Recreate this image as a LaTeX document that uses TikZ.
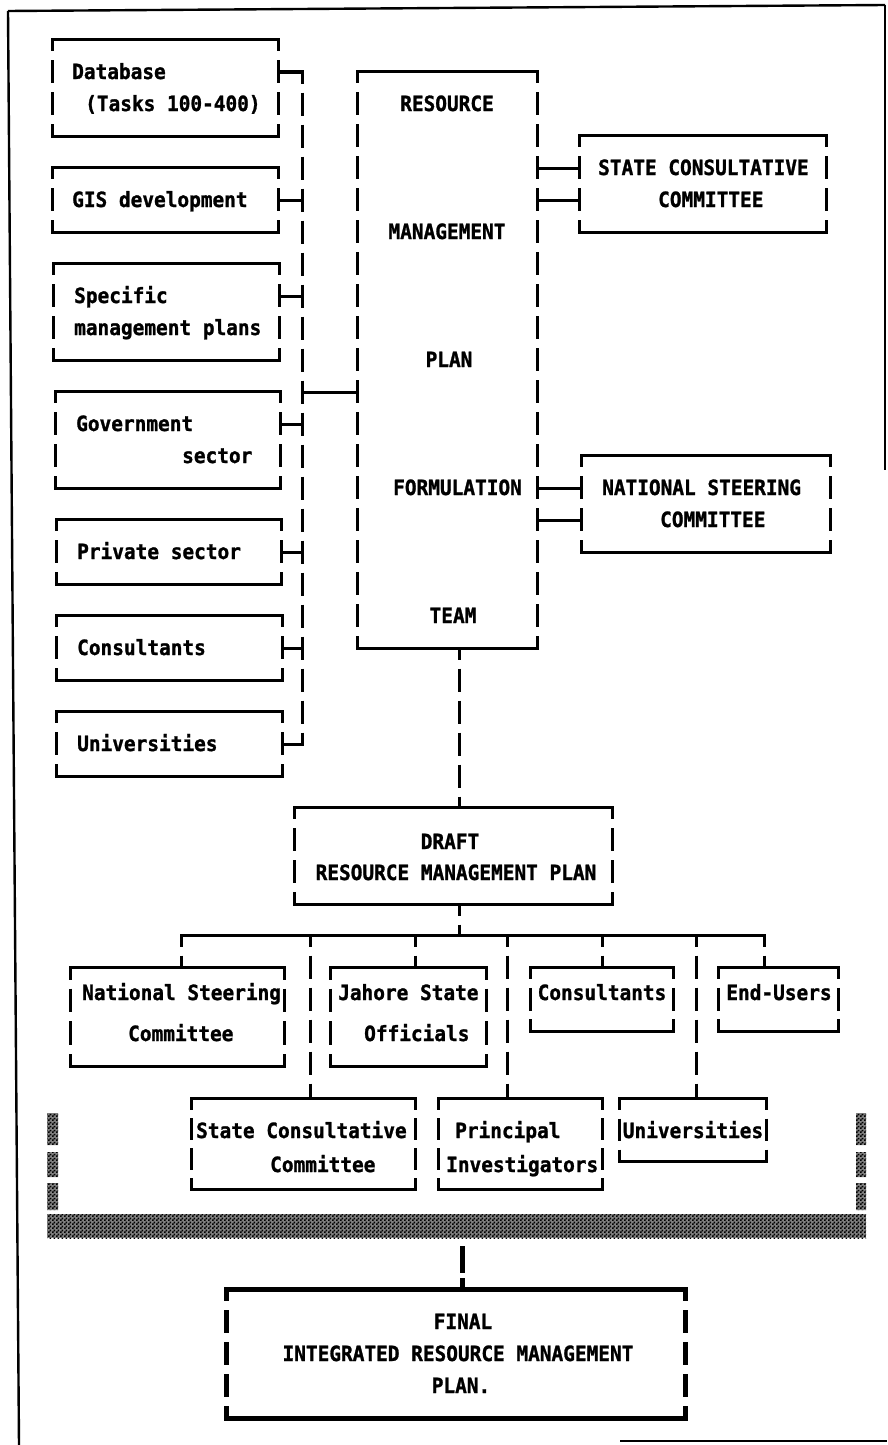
\documentclass[tikz,border=0pt]{standalone}
\usepackage{fontspec}
\setmainfont{DejaVu Sans Mono}[FakeStretch=0.925, BoldFeatures={FakeBold=1.2}]
\usetikzlibrary{fit,patterns}

% checkerboard dither used for the shaded bar
\pgfdeclarepatternformonly{dither}{\pgfpointorigin}{\pgfpoint{4pt}{4pt}}{\pgfpoint{4pt}{4pt}}{%
  \pgfpathrectangle{\pgfpointorigin}{\pgfpoint{2pt}{2pt}}%
  \pgfpathrectangle{\pgfpoint{2pt}{2pt}}{\pgfpoint{2pt}{2pt}}%
  \pgfusepath{fill}}

\tikzset{
  lbl/.style={inner sep=0pt, font=\fontsize{21}{24}\selectfont\bfseries},
  link/.style={line width=3pt, line cap=rect},
  vlink/.style={line width=3pt, dash pattern=on 23pt off 9pt, dash phase=11.5pt},
  shade/.style={fill=black!50, postaction={pattern=dither}},
}

% box drawn in character cells: solid top and bottom, sides broken at each text row
% #1 line width, #2 name, #3 left, #4 top, #5 right, #6 bottom, #7 rows
\newcommand\cellbox[7][3.2pt]{%
  \node[fit={(#3,#4) (#5,#6)}, inner sep=0pt] (#2) {};
  \pgfmathsetmacro\rowpitch{(#6-#4)/#7}%
  \pgfmathsetmacro\dashon{0.72*\rowpitch}%
  \pgfmathsetmacro\dashoff{\rowpitch-\dashon}%
  \pgfmathsetmacro\dashph{\dashon/2}%
  \draw[line width=#1, line cap=rect] (#2.north west) -- (#2.north east);
  \draw[line width=#1, line cap=rect] (#2.south west) -- (#2.south east);
  \draw[line width=#1, dash pattern=on \dashon pt off \dashoff pt, dash phase=\dashph pt]
    (#2.north west) -- (#2.south west);
  \draw[line width=#1, dash pattern=on \dashon pt off \dashoff pt, dash phase=\dashph pt]
    (#2.north east) -- (#2.south east);
}

\begin{document}
\begin{tikzpicture}[x=1pt, y=-1pt]
\useasboundingbox (0,0) rectangle (887,1445);

% page frame
\draw[line width=2.4pt] (8,11) -- (885,5);
\draw[line width=2.4pt] (8,11) -- (19,1445);
\draw[line width=2.4pt] (885,5) -- (885,470);
\draw[line width=2.4pt] (620,1441) -- (887,1441);

% ---- contributing inputs (left column)
\cellbox{db}{53}{40}{278}{136}{3}
\node[lbl, anchor=base west] (dbA) at (72,79) {Database};
\node[lbl, anchor=base west] (dbB) at (85,111) {(Tasks 100-400)};

\cellbox{gis}{53}{168}{278}{232}{2}
\node[lbl, anchor=base west] (gisA) at (72,207) {GIS development};

\cellbox{spec}{54}{264}{279}{360}{3}
\node[lbl, anchor=base west] (specA) at (74,303) {Specific};
\node[lbl, anchor=base west] (specB) at (74,335) {management plans};

\cellbox{gov}{56}{392}{280}{488}{3}
\node[lbl, anchor=base west] (govA) at (76,431) {Government};
\node[lbl, anchor=base west] (govB) at (182,463) {sector};

\cellbox{priv}{57}{520}{281}{584}{2}
\node[lbl, anchor=base west] (privA) at (77,559) {Private sector};

\cellbox{cons}{57}{616}{282}{680}{2}
\node[lbl, anchor=base west] (consA) at (77,655) {Consultants};

\cellbox{univ}{57}{712}{282}{776}{2}
\node[lbl, anchor=base west] (univA) at (77,751) {Universities};

% collecting bus
\coordinate (bus-db)   at (302,72);
\coordinate (bus-gis)  at (302,200);
\coordinate (bus-spec) at (302,296);
\coordinate (bus-team) at (302,392);
\coordinate (bus-gov)  at (302,424);
\coordinate (bus-priv) at (302,552);
\coordinate (bus-cons) at (302,648);
\coordinate (bus-univ) at (302,744);
\draw[vlink] (bus-db) -- (bus-univ);
\draw[link] (db.east |- bus-db) -- (bus-db);
\draw[link] (gis.east |- bus-gis) -- (bus-gis);
\draw[link] (spec.east |- bus-spec) -- (bus-spec);
\draw[link] (gov.east |- bus-gov) -- (bus-gov);
\draw[link] (priv.east |- bus-priv) -- (bus-priv);
\draw[link] (cons.east |- bus-cons) -- (bus-cons);
\draw[link] (univ.east |- bus-univ) -- (bus-univ);

% ---- formulation team
\cellbox{team}{358}{72}{537}{648}{18}
\node[lbl, anchor=base] (teamA) at (447,111) {RESOURCE};
\node[lbl, anchor=base] (teamB) at (447,239) {MANAGEMENT};
\node[lbl, anchor=base] (teamC) at (449,367) {PLAN};
\node[lbl, anchor=base west] (teamD) at (393,495) {FORMULATION};
\node[lbl, anchor=base] (teamE) at (453,623) {TEAM};
\draw[link] (bus-team) -- (team.west |- bus-team);

% ---- committees
\cellbox{scc}{580}{136}{826}{232}{3}
\node[lbl, anchor=base west] (sccA) at (598,175) {STATE CONSULTATIVE};
\node[lbl, anchor=base west] (sccB) at (658,207) {COMMITTEE};
\draw[link] (team.east |- 0,168) -- (scc.west |- 0,168);
\draw[link] (team.east |- 0,200) -- (scc.west |- 0,200);

\cellbox{nsc}{582}{456}{830}{552}{3}
\node[lbl, anchor=base west] (nscA) at (602,495) {NATIONAL STEERING};
\node[lbl, anchor=base west] (nscB) at (660,527) {COMMITTEE};
\draw[link] (team.east |- 0,488) -- (nsc.west |- 0,488);
\draw[link] (team.east |- 0,520) -- (nsc.west |- 0,520);

% ---- draft plan
\cellbox{draft}{295}{808}{612}{904}{3}
\node[lbl, anchor=base] (draftA) at (450,849) {DRAFT};
\node[lbl, anchor=base] (draftB) at (456,880) {RESOURCE MANAGEMENT PLAN};
\coordinate (spine) at (459,0);
\draw[vlink] (team.south -| spine) -- (draft.north -| spine);

% review tree
\coordinate (t1) at (181,935);
\coordinate (t2) at (310,935);
\coordinate (t3) at (415,935);
\coordinate (t4) at (507,935);
\coordinate (t5) at (602,935);
\coordinate (t6) at (696,935);
\coordinate (t7) at (764,935);
\draw[vlink] (draft.south -| spine) -- (spine |- t1);
\draw[link] (t1) -- (t7);

\cellbox{nsc2}{71}{968}{284}{1066}{3}
\node[lbl, anchor=base west] (nsc2A) at (82,1000) {National Steering};
\node[lbl, anchor=base west] (nsc2B) at (128,1041) {Committee};

\cellbox{jah}{331}{968}{486}{1066}{3}
\node[lbl, anchor=base west] (jahA) at (338,1000) {Jahore State};
\node[lbl, anchor=base west] (jahB) at (364,1041) {Officials};

\cellbox{cons2}{531}{968}{673}{1031}{2}
\node[lbl, anchor=base] (cons2A) at (602,1000) {Consultants};

\cellbox{endu}{719}{968}{838}{1031}{2}
\node[lbl, anchor=base] (enduA) at (779,1000) {End-Users};

\cellbox{scc2}{192}{1099}{415}{1189}{3}
\node[lbl, anchor=base west] (scc2A) at (196,1138) {State Consultative};
\node[lbl, anchor=base west] (scc2B) at (270,1172) {Committee};

\cellbox{pi}{439}{1099}{602}{1189}{3}
\node[lbl, anchor=base west] (piA) at (455,1138) {Principal};
\node[lbl, anchor=base west] (piB) at (446,1172) {Investigators};

\cellbox{univ2}{620}{1099}{766}{1161}{2}
\node[lbl, anchor=base] (univ2A) at (693,1138) {Universities};

\draw[vlink] (t1) -- (nsc2.north -| t1);
\draw[vlink] (t2) -- (scc2.north -| t2);
\draw[vlink] (t3) -- (jah.north -| t3);
\draw[vlink] (t4) -- (pi.north -| t4);
\draw[vlink] (t5) -- (cons2.north -| t5);
\draw[vlink] (t6) -- (univ2.north -| t6);
\draw[vlink] (t7) -- (endu.north -| t7);

% ---- shaded bracket gathering the reviews
\fill[shade] (47,1113) rectangle (58,1145) (47,1152) rectangle (58,1177) (47,1183) rectangle (58,1210);
\fill[shade] (856,1113) rectangle (866,1145) (856,1152) rectangle (866,1177) (856,1183) rectangle (866,1210);
\node[fit={(47,1214) (866,1238)}, inner sep=0pt, shade] (bar) {};

% ---- final plan
\cellbox[5pt]{final}{227}{1290}{685}{1418}{4}
\node[lbl, anchor=base] (finalA) at (463,1329) {FINAL};
\node[lbl, anchor=base] (finalB) at (458,1361) {INTEGRATED RESOURCE MANAGEMENT};
\node[lbl, anchor=base] (finalC) at (461,1393) {PLAN.};
\coordinate (spine2) at (462,0);
\draw[line width=5pt, dash pattern=on 0pt off 8pt on 27pt off 5pt on 14pt]
  (bar.south -| spine2) -- (final.north -| spine2);
\end{tikzpicture}
\end{document}
